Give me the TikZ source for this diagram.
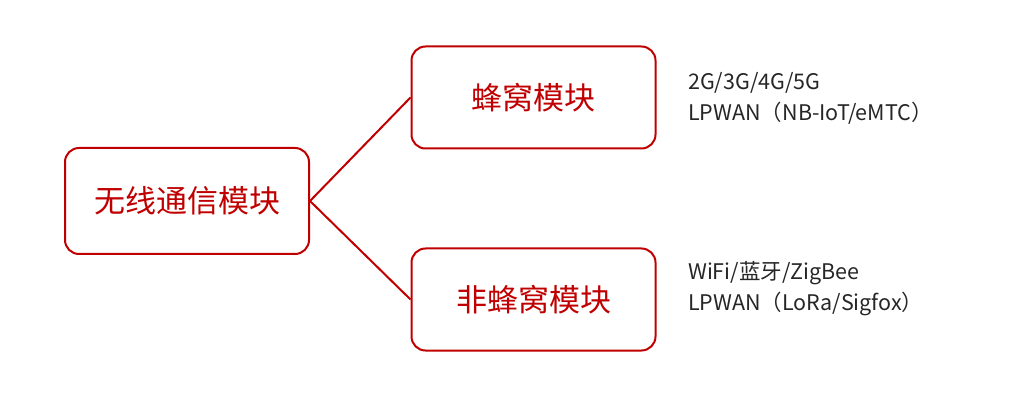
\documentclass[tikz,border=0pt]{standalone}
\usepackage{fontspec}
\setmainfont{Noto Sans CJK SC}
\definecolor{dred}{HTML}{C00000}
\begin{document}
\begin{tikzpicture}[x=1pt,y=-1pt,
  box/.style={draw=dred,line width=2pt,rounded corners=14pt,text=dred,font=\fontsize{31}{36}\selectfont,minimum height=102pt,minimum width=244pt,inner sep=0pt},
  note/.style={anchor=west,align=left,font=\fontsize{21.5}{31}\selectfont,text=black!85,inner sep=0pt}]
\useasboundingbox (0,0) rectangle (1028,403);
\node[box,minimum height=106pt] (L) at (187,201) {无线通信模块};
\node[box] (T) at (533.5,97.5) {蜂窝模块};
\node[box] (B) at (533.5,299.5) {非蜂窝模块};
\draw[dred,line width=2pt] (T.west) -- (L.east) -- (B.west);
\node[note] (n1) at (688,98) {2G/3G/4G/5G\\LPWAN（NB-IoT/eMTC）};
\node[note] (n2) at (688,289) {WiFi/蓝牙/ZigBee\\LPWAN（LoRa/Sigfox）};
\end{tikzpicture}
\end{document}
